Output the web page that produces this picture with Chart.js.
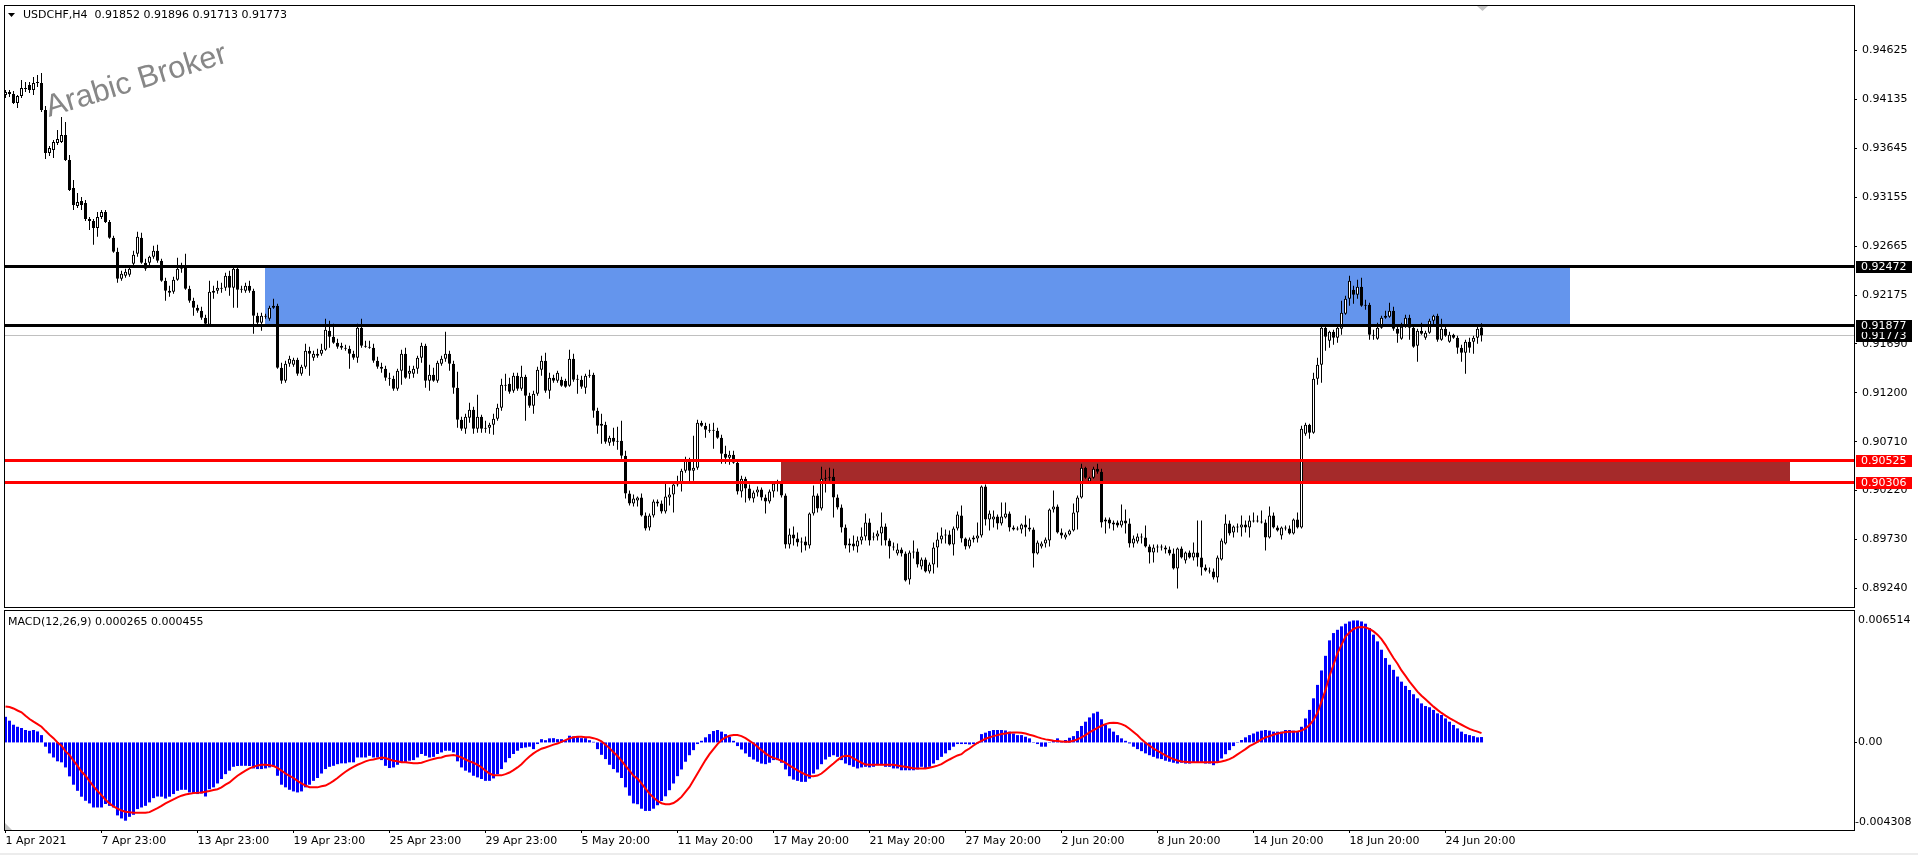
<!DOCTYPE html>
<html><head><meta charset="utf-8">
<script src="https://cdn.jsdelivr.net/npm/chart.js@4.4.0/dist/chart.umd.min.js"></script>
<style>
html,body{margin:0;padding:0;background:#fff;width:1918px;height:855px;overflow:hidden}
#main{position:absolute;left:0;top:0;width:1918px;height:608px}
#macd{position:absolute;left:0;top:608px;width:1918px;height:247px}
canvas{display:block}
</style></head><body>
<div id="main"><canvas id="c1" width="1918" height="608"></canvas></div>
<div id="macd"><canvas id="c2" width="1918" height="247"></canvas></div>
<script>
const symbolName = 'USDCHF,H4';
const opens = [
0.9418,0.9421,0.9419,0.9410,0.9417,0.9425,0.9428,0.9423,0.9430,0.9430,
0.9403,0.9360,0.9363,0.9370,0.9371,0.9378,0.9353,0.9325,0.9307,0.9312,
0.9310,0.9292,0.9292,0.9285,0.9296,0.9301,0.9291,0.9275,0.9261,0.9234,
0.9237,0.9238,0.9249,0.9259,0.9275,0.9250,0.9250,0.9256,0.9262,0.9252,
0.9232,0.9220,0.9221,0.9233,0.9244,0.9245,0.9224,0.9212,0.9205,0.9202,
0.9195,0.9188,0.9220,0.9222,0.9224,0.9225,0.9237,0.9225,0.9244,0.9223,
0.9222,0.9227,0.9222,0.9197,0.9190,0.9197,0.9194,0.9205,0.9207,0.9145,
0.9132,0.9149,0.9148,0.9153,0.9139,0.9146,0.9162,0.9155,0.9157,0.9159,
0.9163,0.9182,0.9176,0.9170,0.9167,0.9165,0.9164,0.9159,0.9155,0.9185,
0.9167,0.9166,0.9165,0.9152,0.9146,0.9144,0.9135,0.9134,0.9124,0.9142,
0.9159,0.9139,0.9139,0.9144,0.9155,0.9167,0.9132,0.9138,0.9132,0.9149,
0.9154,0.9159,0.9149,0.9125,0.9093,0.9084,0.9095,0.9103,0.9084,0.9096,
0.9084,0.9085,0.9088,0.9094,0.9105,0.9127,0.9129,0.9122,0.9137,0.9124,
0.9136,0.9117,0.9107,0.9119,0.9143,0.9152,0.9122,0.9135,0.9132,0.9133,
0.9132,0.9127,0.9154,0.9134,0.9133,0.9125,0.9137,0.9138,0.9102,0.9089,
0.9088,0.9070,0.9075,0.9071,0.9072,0.9057,0.9019,0.9009,0.9012,0.9015,
0.8997,0.8985,0.8997,0.9011,0.9009,0.9001,0.9015,0.9018,0.9028,0.9030,
0.9042,0.9053,0.9042,0.9045,0.9090,0.9087,0.9083,0.9083,0.9082,0.9075,
0.9059,0.9055,0.9058,0.9050,0.9021,0.9034,0.9024,0.9014,0.9020,0.9023,
0.9015,0.9011,0.9021,0.9029,0.9030,0.9017,0.8968,0.8978,0.8974,0.8970,
0.8971,0.8967,0.8999,0.9017,0.9004,0.9034,0.9035,0.9036,0.9015,0.9005,
0.8985,0.8967,0.8969,0.8966,0.8972,0.8976,0.8990,0.8975,0.8976,0.8979,
0.8986,0.8972,0.8966,0.8959,0.8963,0.8959,0.8933,0.8960,0.8961,0.8946,
0.8953,0.8941,0.8948,0.8965,0.8973,0.8977,0.8978,0.8968,0.8984,0.8997,
0.8974,0.8966,0.8973,0.8974,0.8977,0.9026,0.8993,0.8993,0.8996,0.8989,
0.8995,0.8999,0.8985,0.8983,0.8983,0.8988,0.8985,0.8983,0.8959,0.8966,
0.8969,0.8972,0.9003,0.9006,0.8980,0.8975,0.8978,0.8982,0.9000,0.9015,
0.9045,0.9031,0.9035,0.9044,0.9041,0.8991,0.8993,0.8988,0.8990,0.8987,
0.8992,0.8989,0.8969,0.8971,0.8976,0.8975,0.8966,0.8960,0.8965,0.8966,
0.8965,0.8963,0.8959,0.8944,0.8964,0.8952,0.8960,0.8955,0.8960,0.8955,
0.8945,0.8942,0.8941,0.8935,0.8953,0.8969,0.8989,0.8980,0.8986,0.8985,
0.8988,0.8985,0.8992,0.8992,0.8991,0.8990,0.8975,0.8997,0.8985,0.8977,
0.8985,0.8984,0.8979,0.8993,0.8985,0.9079,0.9088,0.9080,0.9134,0.9148,
0.9185,0.9172,0.9181,0.9175,0.9184,0.9199,0.9214,0.9223,0.9218,0.9226,
0.9207,0.9208,0.9178,0.9174,0.9185,0.9195,0.9196,0.9202,0.9184,0.9174,
0.9186,0.9195,0.9185,0.9167,0.9182,0.9175,0.9180,0.9192,0.9197,0.9173,
0.9184,0.9171,0.9178,0.9175,0.9165,0.9160,0.9171,0.9171,0.9175,0.91852
];
const highs = [
0.9423,0.9423,0.9422,0.9418,0.9433,0.9431,0.9431,0.9436,0.9438,0.9440,
0.9407,0.9367,0.9373,0.9383,0.9396,0.9391,0.9358,0.9333,0.9320,0.9316,
0.9313,0.9296,0.9294,0.9301,0.9303,0.9303,0.9293,0.9277,0.9265,0.9242,
0.9244,0.9246,0.9262,0.9281,0.9280,0.9254,0.9257,0.9267,0.9268,0.9254,
0.9235,0.9227,0.9236,0.9255,0.9250,0.9259,0.9227,0.9215,0.9208,0.9206,
0.9198,0.9232,0.9227,0.9232,0.9230,0.9240,0.9242,0.9246,0.9246,0.9227,
0.9230,0.9232,0.9224,0.9200,0.9200,0.9199,0.9207,0.9214,0.9209,0.9150,
0.9152,0.9157,0.9155,0.9155,0.9148,0.9169,0.9166,0.9162,0.9164,0.9169,
0.9194,0.9192,0.9189,0.9174,0.9170,0.9168,0.9167,0.9162,0.9189,0.9194,
0.9172,0.9172,0.9169,0.9156,0.9150,0.9147,0.9140,0.9137,0.9144,0.9163,
0.9165,0.9147,0.9147,0.9157,0.9170,0.9169,0.9148,0.9145,0.9152,0.9157,
0.9181,0.9162,0.9152,0.9141,0.9096,0.9099,0.9110,0.9106,0.9118,0.9098,
0.9092,0.9090,0.9099,0.9109,0.9134,0.9139,0.9135,0.9140,0.9140,0.9147,
0.9138,0.9120,0.9122,0.9146,0.9157,0.9160,0.9140,0.9138,0.9142,0.9136,
0.9134,0.9163,0.9159,0.9138,0.9137,0.9139,0.9143,0.9140,0.9105,0.9099,
0.9091,0.9077,0.9085,0.9086,0.9092,0.9062,0.9022,0.9018,0.9016,0.9019,
0.9000,0.8999,0.9013,0.9013,0.9012,0.9030,0.9025,0.9031,0.9037,0.9044,
0.9056,0.9055,0.9077,0.9093,0.9092,0.9090,0.9089,0.9090,0.9085,0.9078,
0.9067,0.9062,0.9062,0.9053,0.9037,0.9036,0.9028,0.9022,0.9026,0.9025,
0.9018,0.9023,0.9031,0.9033,0.9032,0.9019,0.8984,0.8986,0.8980,0.8975,
0.8976,0.9000,0.9027,0.9019,0.9046,0.9043,0.9045,0.9044,0.9018,0.9008,
0.8988,0.8974,0.8977,0.8976,0.8985,0.8999,0.8994,0.8980,0.8982,0.9000,
0.8989,0.8974,0.8970,0.8969,0.8965,0.8961,0.8962,0.8972,0.8964,0.8955,
0.8955,0.8950,0.8970,0.8980,0.8985,0.8983,0.8982,0.8986,0.9001,0.9007,
0.8975,0.8975,0.8977,0.8990,0.9027,0.9028,0.9002,0.9002,0.8998,0.9010,
0.9010,0.9001,0.8987,0.8986,0.8989,0.8997,0.8994,0.8985,0.8972,0.8971,
0.8975,0.9004,0.9022,0.9008,0.8984,0.8980,0.8983,0.9009,0.9017,0.9049,
0.9046,0.9036,0.9046,0.9049,0.9044,0.8995,0.8995,0.8992,0.8992,0.9008,
0.9003,0.8994,0.8977,0.8979,0.8979,0.8987,0.8968,0.8968,0.8968,0.8968,
0.8967,0.8966,0.8964,0.8965,0.8966,0.8961,0.8962,0.8970,0.8992,0.8992,
0.8948,0.8945,0.8944,0.8957,0.8974,0.8998,0.8992,0.8987,0.8989,0.8997,
0.8992,0.8997,0.9000,0.8997,0.9002,0.8993,0.9006,0.9000,0.8987,0.8986,
0.8987,0.8987,0.8994,0.9000,0.9087,0.9090,0.9089,0.9140,0.9155,0.9188,
0.9187,0.9182,0.9183,0.9186,0.9212,0.9217,0.9237,0.9227,0.9233,0.9235,
0.9213,0.9210,0.9183,0.9190,0.9197,0.9202,0.9210,0.9206,0.9186,0.9190,
0.9198,0.9198,0.9188,0.9184,0.9190,0.9182,0.9194,0.9198,0.9199,0.9194,
0.9186,0.9181,0.9179,0.9177,0.9168,0.9173,0.9175,0.9177,0.9186,0.91896
];
const lows = [
0.9415,0.9416,0.9409,0.9405,0.9415,0.9421,0.9420,0.9418,0.9426,0.9401,
0.9354,0.9357,0.9355,0.9368,0.9370,0.9352,0.9322,0.9303,0.9305,0.9303,
0.9292,0.9283,0.9268,0.9276,0.9294,0.9290,0.9274,0.9260,0.9230,0.9232,
0.9235,0.9236,0.9247,0.9256,0.9249,0.9242,0.9246,0.9254,0.9250,0.9231,
0.9212,0.9216,0.9219,0.9232,0.9240,0.9223,0.9210,0.9197,0.9200,0.9193,
0.9187,0.9186,0.9214,0.9219,0.9220,0.9222,0.9217,0.9205,0.9205,0.9220,
0.9220,0.9220,0.9179,0.9188,0.9182,0.9194,0.9192,0.9204,0.9144,0.9129,
0.9130,0.9146,0.9146,0.9137,0.9137,0.9144,0.9137,0.9152,0.9155,0.9157,
0.9162,0.9165,0.9169,0.9164,0.9163,0.9162,0.9144,0.9153,0.9150,0.9165,
0.9165,0.9164,0.9150,0.9144,0.9140,0.9132,0.9127,0.9122,0.9122,0.9128,
0.9134,0.9134,0.9135,0.9139,0.9150,0.9125,0.9122,0.9131,0.9130,0.9147,
0.9151,0.9142,0.9119,0.9085,0.9082,0.9079,0.9090,0.9079,0.9080,0.9080,
0.9080,0.9079,0.9078,0.9092,0.9102,0.9122,0.9119,0.9120,0.9122,0.9122,
0.9092,0.9105,0.9099,0.9117,0.9137,0.9120,0.9114,0.9130,0.9130,0.9126,
0.9125,0.9126,0.9131,0.9119,0.9124,0.9119,0.9135,0.9095,0.9079,0.9069,
0.9069,0.9067,0.9067,0.9063,0.9054,0.9014,0.9007,0.9006,0.9006,0.8996,
0.8982,0.8982,0.8995,0.9006,0.8999,0.8999,0.9007,0.9000,0.9026,0.9021,
0.9040,0.9031,0.9032,0.9043,0.9086,0.9075,0.9080,0.9064,0.9074,0.9049,
0.9049,0.9048,0.9049,0.9018,0.9015,0.9010,0.9012,0.9010,0.9016,0.9012,
0.8999,0.9009,0.9015,0.9021,0.9015,0.8964,0.8964,0.8967,0.8966,0.8960,
0.8962,0.8964,0.8997,0.9000,0.9002,0.9020,0.9032,0.8995,0.9003,0.8980,
0.8964,0.8960,0.8962,0.8960,0.8968,0.8972,0.8967,0.8972,0.8972,0.8967,
0.8967,0.8954,0.8962,0.8957,0.8956,0.8931,0.8928,0.8954,0.8945,0.8943,
0.8940,0.8939,0.8939,0.8945,0.8969,0.8969,0.8967,0.8957,0.8982,0.8970,
0.8963,0.8964,0.8970,0.8970,0.8975,0.8987,0.8982,0.8985,0.8983,0.8987,
0.8994,0.8981,0.8982,0.8982,0.8979,0.8976,0.8981,0.8945,0.8958,0.8964,
0.8965,0.8966,0.9000,0.8979,0.8974,0.8973,0.8977,0.8981,0.8983,0.9014,
0.9034,0.9030,0.9034,0.9039,0.8985,0.8979,0.8984,0.8982,0.8985,0.8985,
0.8979,0.8965,0.8965,0.8969,0.8969,0.8965,0.8949,0.8950,0.8960,0.8962,
0.8959,0.8957,0.8943,0.8924,0.8954,0.8949,0.8954,0.8952,0.8946,0.8937,
0.8941,0.8939,0.8933,0.8930,0.8952,0.8968,0.8977,0.8975,0.8980,0.8976,
0.8980,0.8975,0.8990,0.8990,0.8989,0.8962,0.8974,0.8984,0.8981,0.8973,
0.8982,0.8978,0.8978,0.8984,0.8984,0.9077,0.9074,0.9079,0.9128,0.9130,
0.9162,0.9165,0.9168,0.9170,0.9178,0.9198,0.9207,0.9209,0.9214,0.9206,
0.9203,0.9173,0.9173,0.9173,0.9184,0.9194,0.9195,0.9182,0.9170,0.9173,
0.9185,0.9173,0.9165,0.9151,0.9178,0.9173,0.9179,0.9187,0.9171,0.9172,
0.9176,0.9170,0.9174,0.9159,0.9151,0.9139,0.9160,0.9159,0.9169,0.91713
];
const closes = [
0.9421,0.9419,0.9410,0.9417,0.9425,0.9424,0.9423,0.9430,0.9431,0.9403,
0.9360,0.9365,0.9371,0.9374,0.9378,0.9353,0.9323,0.9308,0.9311,0.9308,
0.9294,0.9294,0.9285,0.9296,0.9301,0.9291,0.9275,0.9261,0.9234,0.9239,
0.9241,0.9244,0.9258,0.9276,0.9250,0.9244,0.9256,0.9262,0.9252,0.9232,
0.9222,0.9222,0.9233,0.9244,0.9245,0.9224,0.9212,0.9205,0.9202,0.9195,
0.9189,0.9221,0.9222,0.9225,0.9225,0.9237,0.9225,0.9244,0.9223,0.9224,
0.9227,0.9222,0.9197,0.9190,0.9197,0.9196,0.9205,0.9207,0.9145,0.9132,
0.9149,0.9154,0.9153,0.9139,0.9146,0.9162,0.9159,0.9159,0.9159,0.9163,
0.9183,0.9176,0.9170,0.9166,0.9165,0.9164,0.9159,0.9155,0.9185,0.9167,
0.9166,0.9165,0.9152,0.9146,0.9144,0.9135,0.9134,0.9124,0.9142,0.9159,
0.9135,0.9142,0.9144,0.9155,0.9167,0.9132,0.9138,0.9132,0.9150,0.9154,
0.9159,0.9149,0.9125,0.9093,0.9084,0.9096,0.9103,0.9084,0.9096,0.9084,
0.9085,0.9088,0.9094,0.9105,0.9128,0.9128,0.9121,0.9137,0.9124,0.9136,
0.9117,0.9107,0.9119,0.9143,0.9152,0.9122,0.9135,0.9132,0.9140,0.9127,
0.9126,0.9154,0.9133,0.9133,0.9126,0.9137,0.9138,0.9102,0.9087,0.9087,
0.9071,0.9075,0.9071,0.9072,0.9057,0.9019,0.9009,0.9014,0.9015,0.8997,
0.8984,0.8997,0.9011,0.9009,0.9001,0.9016,0.9018,0.9028,0.9031,0.9042,
0.9053,0.9042,0.9045,0.9090,0.9087,0.9083,0.9082,0.9082,0.9075,0.9059,
0.9055,0.9058,0.9050,0.9021,0.9034,0.9024,0.9014,0.9020,0.9023,0.9015,
0.9011,0.9021,0.9029,0.9030,0.9017,0.8968,0.8978,0.8974,0.8970,0.8971,
0.8967,0.8999,0.9017,0.9004,0.9034,0.9035,0.9036,0.9015,0.9005,0.8985,
0.8967,0.8969,0.8966,0.8972,0.8976,0.8990,0.8972,0.8976,0.8979,0.8986,
0.8972,0.8966,0.8965,0.8963,0.8959,0.8932,0.8960,0.8961,0.8948,0.8953,
0.8941,0.8948,0.8965,0.8973,0.8977,0.8978,0.8968,0.8984,0.8998,0.8974,
0.8966,0.8973,0.8975,0.8977,0.9026,0.8993,0.8999,0.8996,0.8989,0.8996,
0.8999,0.8985,0.8983,0.8984,0.8988,0.8985,0.8983,0.8959,0.8970,0.8969,
0.8973,0.9003,0.9006,0.8980,0.8977,0.8978,0.8982,0.9000,0.9015,0.9045,
0.9035,0.9035,0.9044,0.9041,0.8990,0.8993,0.8989,0.8990,0.8987,0.8992,
0.8989,0.8969,0.8974,0.8976,0.8975,0.8966,0.8960,0.8965,0.8966,0.8965,
0.8963,0.8959,0.8944,0.8964,0.8955,0.8960,0.8955,0.8960,0.8955,0.8945,
0.8942,0.8941,0.8935,0.8955,0.8972,0.8989,0.8979,0.8986,0.8985,0.8988,
0.8985,0.8992,0.8991,0.8991,0.8990,0.8975,0.8997,0.8985,0.8982,0.8985,
0.8984,0.8979,0.8993,0.8985,0.9084,0.9088,0.9080,0.9134,0.9148,0.9185,
0.9176,0.9181,0.9175,0.9185,0.9200,0.9214,0.9232,0.9218,0.9226,0.9207,
0.9208,0.9178,0.9177,0.9185,0.9195,0.9197,0.9202,0.9184,0.9179,0.9186,
0.9195,0.9185,0.9166,0.9182,0.9179,0.9180,0.9192,0.9197,0.9173,0.9184,
0.9177,0.9178,0.9175,0.9165,0.9160,0.9171,0.9165,0.9175,0.9184,0.91773
];
const macdMain = [
0.00126,0.00107,0.00087,0.00077,0.00071,0.00061,0.00057,0.00061,0.00054,0.00036,
-0.00021,-0.00054,-0.00074,-0.00093,-0.00098,-0.00123,-0.00167,-0.00208,-0.00238,-0.00267,
-0.00287,-0.00300,-0.00320,-0.00320,-0.00320,-0.00303,-0.00312,-0.00320,-0.00359,-0.00374,
-0.00385,-0.00366,-0.00356,-0.00328,-0.00320,-0.00312,-0.00295,-0.00274,-0.00266,-0.00267,
-0.00276,-0.00267,-0.00254,-0.00238,-0.00233,-0.00233,-0.00246,-0.00251,-0.00254,-0.00251,
-0.00266,-0.00230,-0.00221,-0.00202,-0.00180,-0.00156,-0.00139,-0.00120,-0.00116,-0.00115,
-0.00115,-0.00116,-0.00128,-0.00131,-0.00131,-0.00128,-0.00123,-0.00120,-0.00164,-0.00208,
-0.00221,-0.00233,-0.00241,-0.00246,-0.00241,-0.00221,-0.00208,-0.00189,-0.00175,-0.00153,
-0.00131,-0.00120,-0.00115,-0.00107,-0.00103,-0.00103,-0.00098,-0.00098,-0.00074,-0.00074,
-0.00074,-0.00066,-0.00074,-0.00074,-0.00087,-0.00115,-0.00126,-0.00123,-0.00110,-0.00098,
-0.00098,-0.00090,-0.00087,-0.00074,-0.00057,-0.00066,-0.00074,-0.00071,-0.00057,-0.00049,
-0.00041,-0.00041,-0.00049,-0.00093,-0.00123,-0.00139,-0.00148,-0.00164,-0.00172,-0.00180,
-0.00189,-0.00189,-0.00177,-0.00156,-0.00131,-0.00098,-0.00077,-0.00057,-0.00041,-0.00028,
-0.00025,-0.00021,-0.00033,-0.00008,0.00016,0.00011,0.00020,0.00021,0.00016,0.00016,
0.00011,0.00033,0.00030,0.00030,0.00021,0.00021,0.00011,0.00003,-0.00033,-0.00061,
-0.00082,-0.00110,-0.00131,-0.00148,-0.00175,-0.00221,-0.00262,-0.00300,-0.00304,-0.00326,
-0.00337,-0.00337,-0.00326,-0.00309,-0.00288,-0.00265,-0.00235,-0.00202,-0.00166,-0.00133,
-0.00095,-0.00063,-0.00038,-0.00008,0.00008,0.00025,0.00041,0.00056,0.00061,0.00053,
0.00041,0.00028,0.00008,-0.00018,-0.00035,-0.00054,-0.00071,-0.00084,-0.00095,-0.00104,
-0.00107,-0.00100,-0.00087,-0.00087,-0.00100,-0.00133,-0.00166,-0.00183,-0.00189,-0.00194,
-0.00194,-0.00178,-0.00153,-0.00133,-0.00107,-0.00084,-0.00071,-0.00063,-0.00071,-0.00087,
-0.00104,-0.00112,-0.00120,-0.00128,-0.00123,-0.00120,-0.00123,-0.00120,-0.00112,-0.00112,
-0.00120,-0.00120,-0.00128,-0.00128,-0.00137,-0.00137,-0.00137,-0.00137,-0.00133,-0.00120,
-0.00128,-0.00120,-0.00104,-0.00087,-0.00071,-0.00054,-0.00038,-0.00021,-0.00008,-0.00008,
-0.00008,-0.00010,-0.00008,-0.00005,0.00041,0.00048,0.00056,0.00061,0.00061,0.00061,
0.00059,0.00053,0.00044,0.00036,0.00036,0.00028,0.00020,-0.00002,-0.00008,-0.00021,
-0.00021,-0.00002,0.00012,0.00020,0.00003,0.00012,0.00023,0.00031,0.00056,0.00081,
0.00102,0.00123,0.00143,0.00151,0.00114,0.00086,0.00069,0.00053,0.00036,0.00020,
0.00008,-0.00005,-0.00021,-0.00033,-0.00043,-0.00054,-0.00063,-0.00071,-0.00079,-0.00082,
-0.00090,-0.00095,-0.00100,-0.00104,-0.00100,-0.00104,-0.00104,-0.00100,-0.00100,-0.00100,
-0.00104,-0.00104,-0.00112,-0.00095,-0.00079,-0.00058,-0.00038,-0.00018,-0.00002,0.00012,
0.00025,0.00036,0.00044,0.00053,0.00058,0.00061,0.00058,0.00053,0.00053,0.00053,
0.00061,0.00061,0.00058,0.00053,0.00077,0.00118,0.00160,0.00217,0.00283,0.00354,
0.00426,0.00502,0.00538,0.00554,0.00571,0.00584,0.00595,0.00600,0.00600,0.00595,
0.00584,0.00563,0.00530,0.00497,0.00456,0.00415,0.00382,0.00357,0.00324,0.00299,
0.00278,0.00258,0.00237,0.00217,0.00192,0.00179,0.00173,0.00160,0.00143,0.00135,
0.00118,0.00102,0.00086,0.00069,0.00053,0.00041,0.00036,0.00031,0.00025,0.000265
];
const macdSignal = [
0.00177,0.00174,0.00167,0.00157,0.00148,0.00131,0.00115,0.00102,0.00090,0.00077,
0.00057,0.00038,0.00021,0.00000,-0.00016,-0.00044,-0.00062,-0.00090,-0.00115,-0.00143,
-0.00164,-0.00190,-0.00216,-0.00239,-0.00259,-0.00282,-0.00300,-0.00315,-0.00326,-0.00335,
-0.00341,-0.00344,-0.00346,-0.00346,-0.00346,-0.00346,-0.00343,-0.00333,-0.00323,-0.00312,
-0.00300,-0.00290,-0.00280,-0.00270,-0.00262,-0.00256,-0.00253,-0.00249,-0.00248,-0.00246,
-0.00243,-0.00239,-0.00234,-0.00230,-0.00221,-0.00208,-0.00197,-0.00180,-0.00164,-0.00151,
-0.00139,-0.00128,-0.00120,-0.00113,-0.00110,-0.00110,-0.00112,-0.00116,-0.00125,-0.00139,
-0.00153,-0.00164,-0.00175,-0.00189,-0.00202,-0.00212,-0.00220,-0.00221,-0.00221,-0.00216,
-0.00212,-0.00202,-0.00189,-0.00175,-0.00159,-0.00144,-0.00131,-0.00120,-0.00110,-0.00102,
-0.00093,-0.00087,-0.00084,-0.00079,-0.00074,-0.00077,-0.00084,-0.00090,-0.00093,-0.00097,
-0.00098,-0.00100,-0.00103,-0.00103,-0.00100,-0.00093,-0.00087,-0.00082,-0.00077,-0.00074,
-0.00067,-0.00064,-0.00062,-0.00066,-0.00074,-0.00084,-0.00093,-0.00100,-0.00110,-0.00123,
-0.00139,-0.00153,-0.00161,-0.00162,-0.00162,-0.00156,-0.00148,-0.00136,-0.00123,-0.00107,
-0.00087,-0.00069,-0.00054,-0.00041,-0.00031,-0.00025,-0.00018,-0.00011,-0.00005,0.00003,
0.00011,0.00020,0.00025,0.00028,0.00028,0.00026,0.00025,0.00021,0.00015,0.00005,
-0.00011,-0.00028,-0.00048,-0.00067,-0.00090,-0.00115,-0.00139,-0.00164,-0.00178,-0.00202,
-0.00227,-0.00252,-0.00271,-0.00288,-0.00299,-0.00304,-0.00304,-0.00298,-0.00285,-0.00268,
-0.00243,-0.00219,-0.00186,-0.00153,-0.00120,-0.00087,-0.00058,-0.00033,-0.00008,0.00012,
0.00025,0.00033,0.00036,0.00036,0.00031,0.00021,0.00008,-0.00005,-0.00021,-0.00038,
-0.00054,-0.00067,-0.00076,-0.00082,-0.00090,-0.00100,-0.00114,-0.00125,-0.00137,-0.00148,
-0.00158,-0.00165,-0.00166,-0.00163,-0.00153,-0.00137,-0.00120,-0.00104,-0.00087,-0.00071,
-0.00066,-0.00067,-0.00079,-0.00090,-0.00100,-0.00109,-0.00110,-0.00110,-0.00110,-0.00110,
-0.00110,-0.00110,-0.00110,-0.00114,-0.00117,-0.00120,-0.00123,-0.00127,-0.00128,-0.00128,
-0.00128,-0.00125,-0.00120,-0.00114,-0.00107,-0.00095,-0.00084,-0.00074,-0.00064,-0.00058,
-0.00041,-0.00030,-0.00015,-0.00002,0.00008,0.00018,0.00025,0.00031,0.00036,0.00041,
0.00044,0.00048,0.00049,0.00049,0.00048,0.00044,0.00038,0.00033,0.00026,0.00020,
0.00015,0.00012,0.00008,0.00007,0.00005,0.00003,0.00003,0.00008,0.00015,0.00025,
0.00036,0.00049,0.00061,0.00072,0.00082,0.00090,0.00095,0.00097,0.00095,0.00090,
0.00081,0.00067,0.00051,0.00035,0.00015,-0.00002,-0.00016,-0.00030,-0.00041,-0.00053,
-0.00064,-0.00074,-0.00082,-0.00089,-0.00094,-0.00095,-0.00097,-0.00097,-0.00097,-0.00097,
-0.00097,-0.00097,-0.00097,-0.00097,-0.00094,-0.00089,-0.00082,-0.00072,-0.00059,-0.00046,
-0.00033,-0.00018,-0.00008,0.00003,0.00015,0.00025,0.00031,0.00038,0.00044,0.00048,
0.00051,0.00053,0.00053,0.00054,0.00058,0.00069,0.00086,0.00110,0.00146,0.00201,
0.00258,0.00327,0.00382,0.00439,0.00480,0.00521,0.00541,0.00558,0.00566,0.00568,
0.00566,0.00558,0.00546,0.00530,0.00508,0.00480,0.00447,0.00415,0.00387,0.00354,
0.00327,0.00299,0.00275,0.00250,0.00230,0.00212,0.00194,0.00176,0.00160,0.00145,
0.00132,0.00120,0.00109,0.00097,0.00087,0.00077,0.00067,0.00059,0.00053,0.000455
];
const priceTickLabels = ['0.94625','0.94135','0.93645','0.93155','0.92665','0.92175','0.91690','0.91200','0.90710','0.90220','0.89730','0.89240'];
const timeTickIndex = [0,24,48,72,96,120,144,168,192,216,240,264,288,312,336,360];
const timeTickLabels = ['1 Apr 2021','7 Apr 23:00','13 Apr 23:00','19 Apr 23:00','25 Apr 23:00','29 Apr 23:00','5 May 20:00','11 May 20:00','17 May 20:00','21 May 20:00','27 May 20:00','2 Jun 20:00','8 Jun 20:00','14 Jun 20:00','18 Jun 20:00','24 Jun 20:00'];
const blackLineLevels = [0.92472, 0.91877];
const redLineLevels = [0.90525, 0.90306];
const zoneTop = [0.92472, 0.90525];
const zoneBottom = [0.91877, 0.90306];
const zoneFromBar = [65, 194];
const zoneToBar = [391, 446];
const macdScaleMax = 0.006514;
const macdScaleMin = -0.004308;

/* ---------- drawing ---------- */
const FONT = "'DejaVu Sans', sans-serif";
Chart.defaults.font.family = FONT;
const N = closes.length;
const idx = closes.map((_, i) => i);
const X_MIN = -0.375, X_MAX = 462.125;
const Y_MIN = 0.89055, Y_MAX = 0.95081;
const zoneColors = ['#6495ED', '#A52A2A'];
const last = N - 1;

const bodyData = idx.map(i => ({x: i, y: [opens[i], closes[i]]}));
const wickData = idx.map(i => ({x: i, y: [lows[i], highs[i]]}));
const bodyFill = idx.map(i => closes[i] > opens[i] ? '#ffffff' : '#000000');

const decorMain = {
  id: 'decorMain',
  beforeDatasetsDraw(chart) {
    const {ctx, chartArea: a, scales: {x, y}} = chart;
    ctx.save();
    // watermark
    ctx.save();
    ctx.translate(49, 117);
    ctx.rotate(-17 * Math.PI / 180);
    ctx.fillStyle = '#878787';
    ctx.font = "31px 'Liberation Sans', Arial, sans-serif";
    ctx.textBaseline = 'alphabetic';
    ctx.textAlign = 'left';
    ctx.fillText('Arabic Broker', 0, 0);
    ctx.restore();
    // zones
    for (let k = 0; k < zoneTop.length; k++) {
      const x0 = Math.round(x.getPixelForValue(zoneFromBar[k]) - 0.5);
      const x1 = Math.min(Math.round(x.getPixelForValue(zoneToBar[k])), a.right);
      const y0 = Math.round(y.getPixelForValue(zoneTop[k]));
      const y1 = Math.round(y.getPixelForValue(zoneBottom[k]));
      ctx.fillStyle = zoneColors[k];
      ctx.fillRect(x0, y0, x1 - x0, y1 - y0);
    }
    // bid line
    const yb = Math.round(y.getPixelForValue(closes[last]));
    ctx.fillStyle = '#c0c0c0';
    ctx.fillRect(a.left, yb, a.right - a.left, 1);
    ctx.restore();
  },
  afterDatasetsDraw(chart) {
    const {ctx, chartArea: a, scales: {y}} = chart;
    ctx.save();
    const hl = (v, c) => {
      const yy = Math.round(y.getPixelForValue(v));
      ctx.fillStyle = c;
      ctx.fillRect(a.left, yy - 1, a.right - a.left, 3);
    };
    blackLineLevels.forEach(v => hl(v, '#000000'));
    redLineLevels.forEach(v => hl(v, '#ff0000'));
    ctx.restore();
  },
  afterDraw(chart) {
    const {ctx, chartArea: a, scales: {y}} = chart;
    ctx.save();
    ctx.strokeStyle = '#000';
    ctx.lineWidth = 1;
    ctx.strokeRect(a.left + 0.5, a.top + 0.5, a.right - a.left, a.bottom - a.top);
    ctx.fillStyle = '#c4c4c4';
    ctx.beginPath();
    ctx.moveTo(1477, 6); ctx.lineTo(1488, 6); ctx.lineTo(1482.5, 11); ctx.closePath(); ctx.fill();
    ctx.fillStyle = '#000';
    ctx.beginPath();
    ctx.moveTo(8, 13); ctx.lineTo(15, 13); ctx.lineTo(11.5, 17); ctx.closePath(); ctx.fill();
    ctx.font = '11px ' + FONT;
    ctx.textBaseline = 'middle';
    ctx.textAlign = 'left';
    const f5 = v => v.toFixed(5);
    ctx.fillText(symbolName + '  ' + f5(opens[last]) + ' ' + f5(highs[last]) + ' ' + f5(lows[last]) + ' ' + f5(closes[last]), 23, 15);
    const box = (v, bg) => {
      const yy = Math.round(y.getPixelForValue(v)) + 1;
      ctx.fillStyle = bg;
      ctx.fillRect(a.right + 2, yy - 6, 56, 12);
      ctx.fillStyle = '#fff';
      ctx.fillText(f5(v), a.right + 7, yy + 0.5);
    };
    box(closes[last], '#000000');
    blackLineLevels.forEach(v => box(v, '#000000'));
    redLineLevels.forEach(v => box(v, '#ff0000'));
    ctx.restore();
  }
};

new Chart(document.getElementById('c1'), {
  type: 'bar',
  data: {
    datasets: [
      {data: bodyData, backgroundColor: bodyFill, borderColor: '#000000', borderWidth: 1, borderSkipped: false,
       barThickness: 3, grouped: false, minBarLength: 1, inflateAmount: 0, order: 0},
      {data: wickData, backgroundColor: '#000000', borderWidth: 0, barThickness: 1, grouped: false,
       inflateAmount: 0, order: 1}
    ]
  },
  options: {
    animation: false, responsive: false, devicePixelRatio: 1, events: [],
    layout: {padding: {left: 4, top: 5, right: 0, bottom: 1}},
    plugins: {legend: {display: false}, tooltip: {enabled: false}},
    scales: {
      x: {type: 'linear', min: X_MIN, max: X_MAX, display: false, offset: false, grid: {offset: false}},
      y: {type: 'linear', position: 'right', min: Y_MIN, max: Y_MAX,
        afterBuildTicks: s => { s.ticks = priceTickLabels.map(t => ({value: parseFloat(t)})); },
        afterFit: s => { s.width = 64; s.paddingTop = 0; s.paddingBottom = 0; },
        ticks: {callback: (v, i) => priceTickLabels[i], font: {family: FONT, size: 11}, color: '#000',
                padding: 5, crossAlign: 'near', autoSkip: false},
        grid: {drawOnChartArea: false, drawTicks: true, tickLength: 3, color: '#000'},
        border: {display: false}
      }
    }
  },
  plugins: [decorMain]
});

const decorMacd = {
  id: 'decorMacd',
  afterDraw(chart) {
    const {ctx, chartArea: a, scales: {y}} = chart;
    ctx.save();
    ctx.strokeStyle = '#000';
    ctx.lineWidth = 1;
    ctx.strokeRect(a.left + 0.5, a.top + 0.5, a.right - a.left, a.bottom - a.top);
    ctx.fillStyle = '#000';
    ctx.font = '11px ' + FONT;
    ctx.textBaseline = 'middle';
    ctx.textAlign = 'left';
    ctx.fillText('MACD(12,26,9) ' + macdMain[last].toFixed(6) + ' ' + macdSignal[last].toFixed(6), 8, a.top + 12);
    ctx.fillText(macdScaleMax.toFixed(6), a.right + 4, a.top + 10);
    ctx.fillText('0.00', a.right + 4, Math.round(y.getPixelForValue(0)) + 0.5);
    ctx.fillText(macdScaleMin.toFixed(6), a.right + 1, a.bottom - 8);
    const yz = Math.round(y.getPixelForValue(0));
    ctx.fillRect(a.right, yz, 3, 1);
    ctx.fillStyle = '#c4c4c4';
    ctx.beginPath();
    ctx.moveTo(a.left + 1, a.bottom - 7); ctx.lineTo(a.left + 1, a.bottom); ctx.lineTo(a.left + 8, a.bottom); ctx.closePath(); ctx.fill();
    ctx.fillStyle = '#ececec';
    ctx.fillRect(0, 245, 1918, 2);
    ctx.restore();
  }
};

new Chart(document.getElementById('c2'), {
  type: 'bar',
  data: {
    datasets: [
      {type: 'line', data: idx.map(i => ({x: i, y: macdSignal[i]})), borderColor: '#ff0000', borderWidth: 2,
       pointRadius: 0, tension: 0, fill: false, order: 0},
      {type: 'bar', data: idx.map(i => ({x: i, y: macdMain[i]})), backgroundColor: '#0000ff', borderWidth: 0,
       barThickness: 3, grouped: false, inflateAmount: 0, order: 1}
    ]
  },
  options: {
    animation: false, responsive: false, devicePixelRatio: 1, events: [],
    layout: {padding: {left: 4, top: 2, right: 0, bottom: 0}},
    plugins: {legend: {display: false}, tooltip: {enabled: false}},
    scales: {
      x: {type: 'linear', min: X_MIN, max: X_MAX, position: 'bottom', offset: false,
        afterBuildTicks: s => { s.ticks = timeTickIndex.map(v => ({value: v})); },
        afterFit: s => { s.height = 25; s.paddingLeft = 0; s.paddingRight = 0; },
        ticks: {callback: (v, i) => timeTickLabels[i], align: 'start', maxRotation: 0, minRotation: 0,
                autoSkip: false, font: {family: FONT, size: 11}, color: '#000', padding: 2},
        grid: {drawOnChartArea: false, drawTicks: true, tickLength: 3, color: '#000', offset: false},
        border: {display: false}
      },
      y: {type: 'linear', position: 'right', min: macdScaleMin, max: macdScaleMax,
        afterFit: s => { s.width = 64; s.paddingTop = 0; s.paddingBottom = 0; },
        ticks: {display: false}, grid: {display: false}, border: {display: false}
      }
    }
  },
  plugins: [decorMacd]
});
</script></body></html>
